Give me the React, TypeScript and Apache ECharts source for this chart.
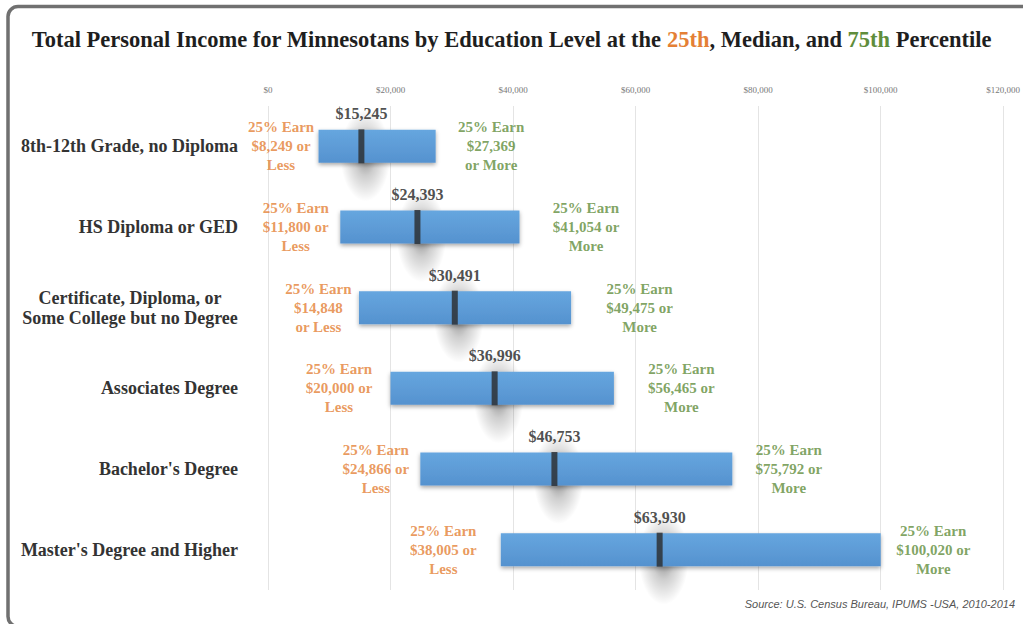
import React, { useEffect, useRef } from "react";
import * as echarts from "echarts";

const categories = [
  "8th-12th Grade, no Diploma",
  "HS Diploma or GED",
  "Certificate, Diploma, or\nSome College but no Degree",
  "Associates Degree",
  "Bachelor's Degree",
  "Master's Degree and Higher",
];
const p25 = [8249, 11800, 14848, 20000, 24866, 38005];
const median = [15245, 24393, 30491, 36996, 46753, 63930];
const p75 = [27369, 41054, 49475, 56465, 75792, 100020];
const xTicks = [0, 20000, 40000, 60000, 80000, 100000, 120000];

// label layout (gap from bar ends to label centres) and wrapping style
const leftGap = [37, 44, 40, 51, 44, 57];
const rightGap = [55, 66, 68, 67, 56, 52];
const leftWrapAfterValue = [false, false, true, false, false, false];
const rightWrapAfterValue = [true, false, false, false, false, false];

const ORANGE = "#e47f35";
const GREEN = "#5f8d3b";
const SERIF = "'Liberation Serif', 'DejaVu Serif', serif";

const money = (v: number) => "$" + v.toLocaleString("en-US");

export default function App() {
  const ref = useRef<HTMLDivElement>(null);
  useEffect(() => {
    if (!ref.current) return;
    const chart = echarts.init(ref.current, null, { renderer: "svg" });
    const lblFont = {
      fontFamily: SERIF,
      fontWeight: "bold" as const,
      fontSize: 15,
      lineHeight: 19,
    };
    const titleStyle = { fontFamily: SERIF, fontWeight: "bold", fontSize: 22.5 };
    const catStyle = { fontFamily: SERIF, fontWeight: "bold", fontSize: 18, color: "#333", lineHeight: 20 };
    const option = {
      animation: false,
      backgroundColor: "#ffffff",
      title: {
        left: "center",
        top: 23,
        text:
          "{a|Total Personal Income for Minnesotans by Education Level at the }{o|25th}{a|, Median, and }{g|75th}{a| Percentile}",
        textStyle: {
          rich: {
            a: { ...titleStyle, color: "#1e1e1e" },
            o: { ...titleStyle, color: ORANGE },
            g: { ...titleStyle, color: GREEN },
          },
        },
      },
      graphic: [
        {
          type: "rect",
          shape: { x: 8, y: 6.5, width: 1100, height: 620, r: 10 },
          style: { fill: "none", stroke: "#707070", lineWidth: 3.5 },
          silent: true,
          z: 100,
        },
        {
          type: "text",
          right: 8,
          top: 598,
          style: {
            text: "Source: U.S. Census Bureau, IPUMS -USA, 2010-2014",
            font: "italic 11px 'Liberation Sans', 'Open Sans', sans-serif",
            fill: "#555",
          },
        },
      ],
      grid: { left: 268, right: 12, top: 106, bottom: 34, containLabel: false },
      xAxis: {
        type: "value",
        position: "top",
        min: xTicks[0],
        max: xTicks[xTicks.length - 1],
        interval: xTicks[1] - xTicks[0],
        axisLine: { show: false },
        axisTick: { show: false },
        axisLabel: {
          margin: 12,
          fontFamily: SERIF,
          fontSize: 9,
          color: "#777",
          formatter: (v: number) => money(v),
        },
        splitLine: { show: true, lineStyle: { color: "#e4e4e4", width: 1 } },
      },
      yAxis: {
        type: "category",
        inverse: true,
        data: categories,
        axisLine: { show: false },
        axisTick: { show: false },
        axisLabel: {
          margin: 30,
          formatter: (v: string) =>
            v.includes("\n")
              ? v
                  .split("\n")
                  .map((s) => `{c|${s}}`)
                  .join("\n")
              : `{r|${v}}`,
          rich: {
            r: { ...catStyle },
            c: { ...catStyle, width: 216, align: "center" },
          },
        },
      },
      series: [
        {
          type: "scatter",
          name: "medianShadow",
          silent: true,
          z: 1,
          data: median.map((v, i) => [v, i]),
          symbol: "circle",
          symbolSize: [50, 92],
          symbolOffset: [4, 9],
          itemStyle: {
            color: new echarts.graphic.RadialGradient(0.5, 0.5, 0.5, [
              { offset: 0, color: "rgba(0,0,0,0.55)" },
              { offset: 0.45, color: "rgba(0,0,0,0.24)" },
              { offset: 1, color: "rgba(0,0,0,0)" },
            ]),
          },
        },
        {
          type: "bar",
          stack: "r",
          barWidth: 33,
          silent: true,
          z: 2,
          data: p25,
          itemStyle: { color: "rgba(0,0,0,0)" },
        },
        {
          type: "bar",
          stack: "r",
          barWidth: 33,
          z: 2,
          data: p75.map((v, i) => v - p25[i]),
          itemStyle: {
            color: new echarts.graphic.LinearGradient(0, 0, 0, 1, [
              { offset: 0, color: "#66a6df" },
              { offset: 1, color: "#5592cf" },
            ]),
            shadowBlur: 4,
            shadowOffsetY: 2,
            shadowColor: "rgba(0,0,0,0.35)",
          },
        },
        {
          type: "scatter",
          z: 4,
          data: median.map((v, i) => [v, i]),
          symbol: "rect",
          symbolSize: [6, 34],
          itemStyle: { color: "#2b2b2b" },
          label: {
            show: true,
            position: "top",
            distance: 6,
            color: "#222",
            ...lblFont,
            fontSize: 16,
            formatter: (p: any) => money(p.value[0]),
          },
        },
        {
          type: "scatter",
          z: 4,
          symbolSize: 1,
          itemStyle: { color: "rgba(0,0,0,0)" },
          data: p25.map((v, i) => ({ value: [v, i], label: { distance: leftGap[i] } })),
          label: {
            show: true,
            position: "left",
            align: "center",
            color: ORANGE,
            ...lblFont,
            formatter: (p: any) =>
              leftWrapAfterValue[p.dataIndex]
                ? `25% Earn\n${money(p.value[0])}\nor Less`
                : `25% Earn\n${money(p.value[0])} or\nLess`,
          },
        },
        {
          type: "scatter",
          z: 4,
          symbolSize: 1,
          itemStyle: { color: "rgba(0,0,0,0)" },
          data: p75.map((v, i) => ({ value: [v, i], label: { distance: rightGap[i] } })),
          label: {
            show: true,
            position: "right",
            align: "center",
            color: GREEN,
            ...lblFont,
            formatter: (p: any) =>
              rightWrapAfterValue[p.dataIndex]
                ? `25% Earn\n${money(p.value[0])}\nor More`
                : `25% Earn\n${money(p.value[0])} or\nMore`,
          },
        },
      ],
    };
    chart.setOption(option as any);
    return () => chart.dispose();
  }, []);
  return (
    <div
      ref={ref}
      style={{ position: "absolute", left: 0, top: 0, width: 1023, height: 624 }}
    />
  );
}
